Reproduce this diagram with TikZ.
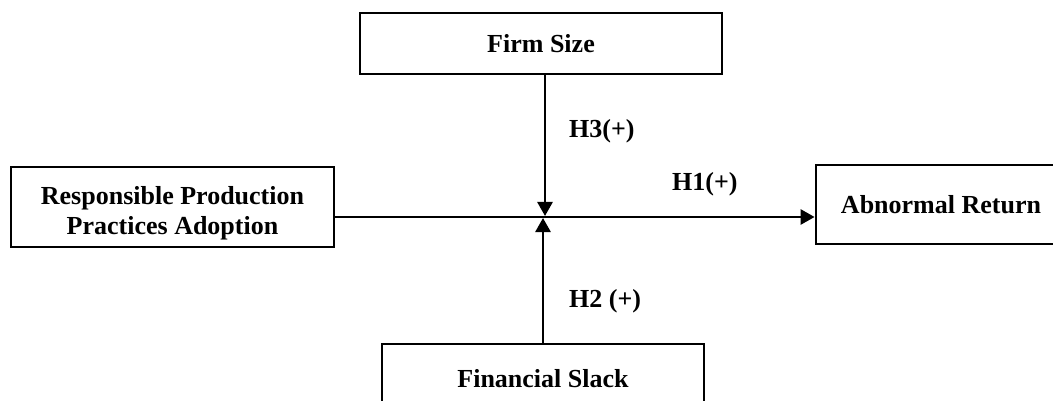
\documentclass[tikz,border=0pt]{standalone}
\usepackage{fontspec}
\setmainfont{Liberation Serif}
\usetikzlibrary{arrows.meta}
\begin{document}
\begin{tikzpicture}[x=1pt,y=-1pt,
  txt/.style={font=\fontsize{26}{30}\selectfont\bfseries,align=center,inner sep=0pt},
  box/.style={txt,draw=black,line width=2.8pt,fill=white},
  link/.style={line width=2.7pt,-{Triangle[width=15pt,length=14pt]}},
  hyp/.style={txt}]
\useasboundingbox (0,0) rectangle (1053,401);
% variables
\node[box,minimum width=362pt,minimum height=61pt] (fs) at (541,43.5) {Firm Size};
\node[box,minimum width=323pt,minimum height=80pt] (rp) at (172.5,207) {};
\node[txt] (rptext) at (172.5,213) {Responsible Production\\Practices Adoption};
\node[box,minimum width=250pt,minimum height=79pt] (ar) at (941,204.5) {Abnormal Return};
\node[box,minimum width=322pt,minimum height=70pt] (fsl) at (543,379) {Financial Slack};
% junction of the moderating paths
\coordinate (j) at (545,216);
\coordinate (ju) at (545,217);
\coordinate (jd) at (543,218);
% paths
\draw[link] (rp.east |- ju) -- (ar.west |- ju);
\draw[link] (fs.south -| j) -- (j);
\draw[link] (fsl.north -| jd) -- (jd);
% hypothesis labels
\node[hyp,anchor=west] (h3) at (569,131) {H3(+)};
\node[hyp,anchor=west] (h1) at (672,184) {H1(+)};
\node[hyp,anchor=west] (h2) at (569,301) {H2 (+)};
\end{tikzpicture}
\end{document}
